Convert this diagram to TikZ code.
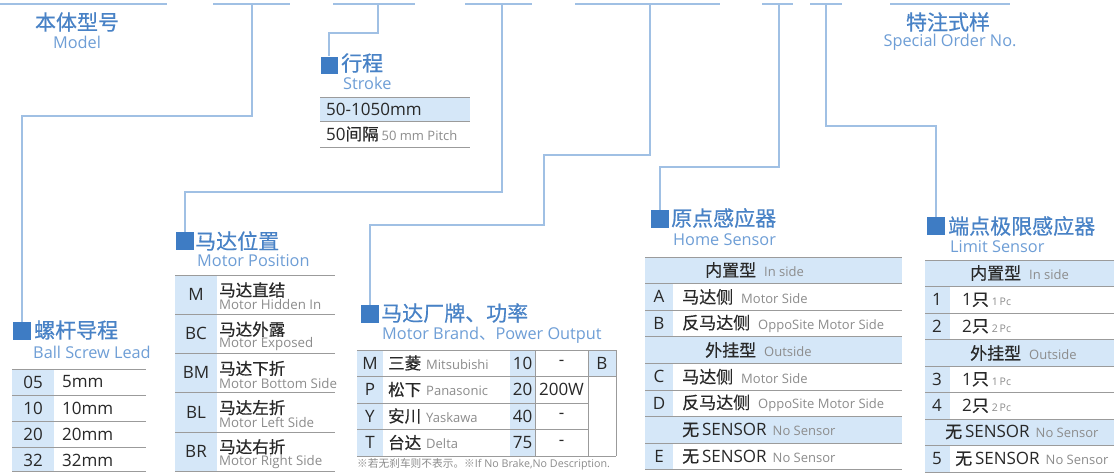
\documentclass[tikz,border=0pt]{standalone}
\usepackage{fontspec}
\setmainfont{Open Sans}
\newfontfamily\cjkr{Noto Sans CJK SC}
\newfontfamily\cjk[FakeBold=0.5]{Noto Sans CJK SC}
\definecolor{connc}{RGB}{160,192,228}
\definecolor{sqc}{RGB}{62,124,196}
\definecolor{titc}{RGB}{72,130,198}
\definecolor{subc}{RGB}{110,158,214}
\definecolor{cellc}{RGB}{213,231,248}
\definecolor{gridc}{RGB}{155,155,155}
\definecolor{txtc}{RGB}{40,40,40}
\definecolor{smc}{RGB}{140,140,140}
\newcommand{\fs}[1]{\fontsize{#1}{#1}\selectfont}
\newcommand{\sm}[1]{{\color{smc}\fs{13}#1}}
\newcommand{\zh}[1]{{\cjk\fs{16.5}#1}}
\tikzset{
  conn/.style={draw=connc, line width=1.4pt},
  topline/.style={draw=connc, line width=1.4pt},
  sqbox/.style={fill=sqc, minimum size=18pt, inner sep=0pt, draw=none},
  ttl/.style={anchor=west, inner sep=0pt, text=titc, font=\cjk\fs{21}},
  sub/.style={anchor=west, inner sep=0pt, text=subc, font=\fs{16.3}},
  grid/.style={draw=gridc, line width=0.9pt},
  cellfill/.style={fill=cellc, draw=none},
  code/.style={anchor=center, inner sep=0pt, text=txtc, font=\fs{17}},
  val/.style={anchor=west, inner sep=0pt, text=txtc, font=\fs{17}},
  zhn/.style={anchor=west, inner sep=0pt, text=txtc, font=\cjk\fs{16.5}},
  enn/.style={anchor=west, inner sep=0pt, text=smc, font=\fs{13.3}},
  hdr/.style={anchor=west, inner sep=0pt, text=txtc, font=\fs{17}},
  note/.style={anchor=west, inner sep=0pt, text=smc, font=\fs{10.7}},
}
\begin{document}
\begin{tikzpicture}[x=1pt,y=-1pt]
\useasboundingbox (0,0) rectangle (1114,472);
\fill[white] (0,0) rectangle (1114,472);

% ---------- top code lines ----------
\coordinate (l1a) at (0,4);   \coordinate (l1b) at (167,4);
\coordinate (l2a) at (213,4); \coordinate (l2b) at (290,4);
\coordinate (l3a) at (333,4); \coordinate (l3b) at (415,4);
\coordinate (l4a) at (465,4); \coordinate (l4b) at (532,4);
\coordinate (l5a) at (575,4); \coordinate (l5b) at (720,4);
\coordinate (l6a) at (762,4); \coordinate (l6b) at (793,4);
\coordinate (l7a) at (810,4); \coordinate (l7b) at (842,4);
\coordinate (l8a) at (890,4); \coordinate (l8b) at (1010,4);
\foreach \i in {1,...,8} \draw[topline] (l\i a) -- (l\i b);
\coordinate (t2) at (252,4);
\coordinate (t3) at (378,4);
\coordinate (t4) at (502,4);
\coordinate (t5) at (650,4);
\coordinate (t6) at (779,4);
\coordinate (t7) at (826,4);

% ---------- Model / Special ----------
\node[inner sep=0pt, text=titc, font=\cjk\fs{21}] (mdl) at (77,22) {本体型号};
\node[inner sep=0pt, text=subc, font=\fs{16.3}] (mdle) at (77,42) {Model};
\node[inner sep=0pt, text=titc, font=\cjk\fs{21}] (spc) at (948,22) {特注式样};
\node[inner sep=0pt, text=subc, font=\fs{16.3}] (spce) at (950,42) {Special Order No.};

% ---------- squares ----------
\node[sqbox, minimum size=17pt] (sqStroke) at (329,65) {};
\node[sqbox] (sqBall) at (22,331) {};
\node[sqbox] (sqPos) at (185,241) {};
\node[sqbox] (sqBrand) at (370,314) {};
\node[sqbox] (sqHome) at (660,219) {};
\node[sqbox] (sqLimit) at (936,226) {};

% ---------- connectors ----------
\draw[conn] (t2) |- (22,116) -- (sqBall.north);
\draw[conn] (t3) |- (329,33) -- (sqStroke.north);
\draw[conn] (t4) |- (185,192) -- (sqPos.north);
\draw[conn] (t5) |- (544,155) |- (370,225) -- (sqBrand.north);
\draw[conn] (t6) |- (660,167) -- (sqHome.north);
\draw[conn] (t7) |- (936,126) -- (sqLimit.north);

% ---------- titles ----------
\node[ttl] (tStroke) at (341,63) {行程};
\node[sub] (sStroke) at (343,83) {Stroke};
\node[ttl] (tBall) at (34,330) {螺杆导程};
\node[sub] (sBall) at (33,352) {Ball Screw Lead};
\node[ttl] (tPos) at (195,241) {马达位置};
\node[sub] (sPos) at (197,261) {Motor Position};
\node[ttl] (tBrand) at (381,313) {马达厂牌、功率};
\node[sub] (sBrand) at (382,335) {Motor Brand{\cjkr 、}Power Output};
\node[ttl] (tHome) at (671,218) {原点感应器};
\node[sub] (sHome) at (673,240) {Home Sensor};
\node[ttl] (tLimit) at (948,226) {端点极限感应器};
\node[sub] (sLimit) at (950,247) {Limit Sensor};

% ---------- Stroke table ----------
\fill[cellfill] (320,97) rectangle (470,121);
\foreach \y in {97,121,147} \draw[grid] (320,\y) -- (470,\y);
\node[val] (st1) at (326,109) {50-1050mm};
\node[val] (st2) at (326,134) {50\zh{间隔}\hspace{3pt}\sm{50 mm Pitch}};

% ---------- Ball screw table ----------
\fill[cellfill] (12,369) rectangle (54,472);
\foreach \y in {369,395,421,447,471.5} \draw[grid] (12,\y) -- (146,\y);
\foreach \c/\v [count=\k from 0] in {05/5mm,10/10mm,20/20mm,32/32mm}{
  \node[code] (bc\k) at (33,369+26*\k+13) {\c};
  \node[val] (bv\k) at (62,369+26*\k+13) {\v};
}

% ---------- Motor position table ----------
\fill[cellfill] (175,275) rectangle (217,471);
\foreach \y in {275,314,353,392,432,471} \draw[grid] (175,\y) -- (335,\y);
\foreach \c/\z/\e [count=\k from 0] in {M/马达直结/Motor Hidden In,BC/马达外露/Motor Exposed,BM/马达下折/Motor Bottom Side,BL/马达左折/Motor Left Side,BR/马达右折/Motor Right Side}{
  \node[code] (pc\k) at (196,275+39.2*\k+19.5) {\c};
  \node[zhn] (pz\k) at (219,275+39.2*\k+15) {\z};
  \node[enn] (pe\k) at (219,275+39.2*\k+30) {\e};
}

% ---------- Motor brand table ----------
\fill[cellfill] (357,350) rectangle (383,456);
\fill[cellfill] (510,350) rectangle (535,456);
\fill[cellfill] (588,350) rectangle (616,376.5);
\draw[grid] (357,350) -- (616,350);
\foreach \y in {376.5,403,429.5} \draw[grid] (357,\y) -- (588,\y);
\draw[grid] (588,376.5) -- (616,376.5);
\draw[grid] (357,456) -- (616,456);
\foreach \x in {535,588,616} \draw[grid] (\x,350) -- (\x,456);
\foreach \c/\z/\e/\p/\w [count=\k from 0] in {M/三菱/Mitsubishi/10/-,P/松下/Panasonic/20/200W,Y/安川/Yaskawa/40/-,T/台达/Delta/75/-}{
  \node[code] (mc\k) at (370,363+26.5*\k) {\c};
  \node[val] (mn\k) at (388,363+26.5*\k) {\zh{\z}\hspace{5pt}\sm{\e}};
  \node[code] (mp\k) at (522.5,363+26.5*\k) {\p};
  \node[code] (mw\k) at (561.5,363+26.5*\k) {\w};
}
\node[code] (mb) at (602,363) {B};
\node[note] (mnote) at (357,464) {{\cjkr ※若无刹车则不表示。※}If No Brake,No Description.};

% ---------- Home sensor table ----------
\fill[cellfill] (645,257) rectangle (673,470);
\foreach \r in {0,3,6} \fill[cellfill] (645,257+26.6*\r) rectangle (902,257+26.6*\r+26.6);
\foreach \r in {0,...,8} \draw[grid] (645,257+26.6*\r) -- (902,257+26.6*\r);
\node[hdr] (h0) at (705,270) {{\cjk 内置型}\hspace{8pt}\sm{In side}};
\node[hdr] (h3) at (705,350) {{\cjk 外挂型}\hspace{8pt}\sm{Outside}};
\node[hdr] (h6) at (682,430) {{\cjk 无}\,SENSOR\hspace{6pt}\sm{No Sensor}};
\foreach \c/\z/\e/\r in {A/马达侧/Motor Side/1,B/反马达侧/OppoSite Motor Side/2,C/马达侧/Motor Side/4,D/反马达侧/OppoSite Motor Side/5}{
  \node[code] (hc\r) at (659,257+26.6*\r+13.3) {\c};
  \node[hdr] (hz\r) at (682,257+26.6*\r+13.3) {{\cjk\z}\hspace{8pt}\sm{\e}};
}
\node[code] (hc7) at (659,257+26.6*7+13.3) {E};
\node[hdr] (hz7) at (682,257+26.6*7+13.3) {{\cjk 无}\,SENSOR\hspace{6pt}\sm{No Sensor}};

% ---------- Limit sensor table ----------
\fill[cellfill] (925,260) rectangle (950,472);
\foreach \r in {0,3,6} \fill[cellfill] (925,260+26.5*\r) rectangle (1114,260+26.5*\r+26.5);
\foreach \r in {0,...,8} \draw[grid] (925,260+26.5*\r) -- (1114,260+26.5*\r);
\node[hdr] (g0) at (970,273) {{\cjk 内置型}\hspace{8pt}\sm{In side}};
\node[hdr] (g3) at (970,353) {{\cjk 外挂型}\hspace{8pt}\sm{Outside}};
\node[hdr] (g6) at (945,432) {{\cjk 无}\,SENSOR\hspace{6pt}\sm{No Sensor}};
\foreach \c/\n/\r in {1/1/1,2/2/2,3/1/4,4/2/5}{
  \node[code] (gc\r) at (937,260+26.5*\r+13.25) {\c};
  \node[hdr] (gz\r) at (962,260+26.5*\r+13.25) {\n{\cjk 只}\hspace{3pt}{\color{smc}\fs{10.5}\n\,Pc}};
}
\node[code] (gc7) at (937,260+26.5*7+13.25) {5};
\node[hdr] (gz7) at (955,260+26.5*7+13.25) {{\cjk 无}\,SENSOR\hspace{6pt}\sm{No Sensor}};
\end{tikzpicture}
\end{document}
